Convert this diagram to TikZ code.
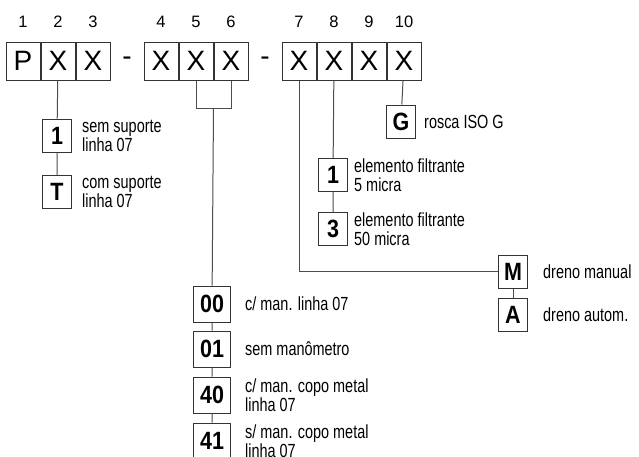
\documentclass[tikz,border=0pt]{standalone}
\usepackage{fontspec}
\setmainfont{Liberation Sans}
\newfontfamily\condfont[FakeStretch=0.76]{Liberation Sans}
\newfontfamily\boxfont[FakeStretch=0.86]{Liberation Sans}
\usetikzlibrary{calc,positioning}

\begin{document}
\begin{tikzpicture}[x=1pt,y=1pt,
        codebox/.style={draw=black!80,line width=1pt,minimum width=34pt,minimum height=38pt,
                        inner sep=0pt,font=\fontsize{28}{28}\selectfont},
        digit/.style={inner sep=0pt,font=\fontsize{16.5}{16.5}\selectfont},
        optbox/.style={draw=black!80,line width=1pt,minimum width=29pt,minimum height=33pt,
                       inner sep=0pt,font=\boxfont\bfseries\fontsize{25}{25}\selectfont},
        widebox/.style={optbox,minimum width=37pt,minimum height=36pt},
        txt/.style={align=left,inner sep=0pt,font=\condfont\fontsize{19}{19}\selectfont},
        link/.style={draw=black!70,line width=1pt}]
                \useasboundingbox (0,0) rectangle (639,-456);

                % code boxes
                \node[codebox] (b1) at (23,-61) {P};
                \node[codebox,right=0pt of b1] (b2) {X};
                \node[codebox,right=0pt of b2] (b3) {X};
                \node[codebox] (b4) at (161,-61) {X};
                \node[codebox,right=0pt of b4] (b5) {X};
                \node[codebox,right=0pt of b5] (b6) {X};
                \node[codebox] (b7) at (299,-61) {X};
                \node[codebox,right=0pt of b7] (b8) {X};
                \node[codebox,right=0pt of b8] (b9) {X};
                \node[codebox,right=0pt of b9] (b10) {X};
                \node[codebox,draw=none] (d1) at ($(b3.east)!.5!(b4.west)$) {-};
                \node[codebox,draw=none] (d2) at ($(b6.east)!.5!(b7.west)$) {-};
                \foreach \i in {1,...,10}
                    \node[digit] (n\i) at ($(b\i.center)+(0,39)$) {\i};

                % suporte
                \node[optbox] (s1) at (57,-135.5) {1};
                \node[optbox] (sT) at (57,-192) {T};
                \node[txt,right=10pt of s1] (ts1) {sem suporte\\linha 07};
                \node[txt,right=10pt of sT] (tsT) {com suporte\\linha 07};
                \draw[link] (b2) -- (s1) -- (sT);

                % manometro
                \coordinate (br) at ($(b5.south)!.5!(b6.south)+(0,-28)$);
                \draw[link] (b5.south) |- (br) -| (b6.south);
                \node[widebox] (m00) at (212,-304) {00};
                \node[widebox] (m01) at (212,-349) {01};
                \node[widebox] (m40) at (212,-395) {40};
                \node[widebox] (m41) at (212,-441) {41};
                \node[txt,right=14pt of m00] (t00) {c/ man. linha 07};
                \node[txt,right=14pt of m01] (t01) {sem manômetro};
                \node[txt,right=14pt of m40] (t40) {c/ man. copo metal\\linha 07};
                \node[txt,right=14pt of m41] (t41) {s/ man. copo metal\\linha 07};
                \draw[link] (br) -- (m00) -- (m01) -- (m40) -- (m41);

                % rosca
                \node[optbox] (g) at (401,-121.5) {G};
                \node[txt,right=8pt of g] (tg) {rosca ISO G};
                \draw[link] (b10) -- (g);

                % elemento filtrante
                \node[optbox] (f1) at (333,-175) {1};
                \node[optbox] (f3) at (333,-229) {3};
                \node[txt,right=6pt of f1] (tf1) {elemento filtrante\\5 micra};
                \node[txt,right=6pt of f3] (tf3) {elemento filtrante\\50 micra};
                \draw[link] (b8) -- (f1) -- (f3);

                % dreno
                \node[optbox] (dm) at (513,-271.5) {M};
                \node[optbox] (da) at (513,-314.5) {A};
                \node[txt,right=15pt of dm] (tdm) {dreno manual};
                \node[txt,right=15pt of da] (tda) {dreno autom.};
                \draw[link] (b7.south) |- (dm);
                \draw[link] (dm) -- (da);
            \end{tikzpicture}
\end{document}
